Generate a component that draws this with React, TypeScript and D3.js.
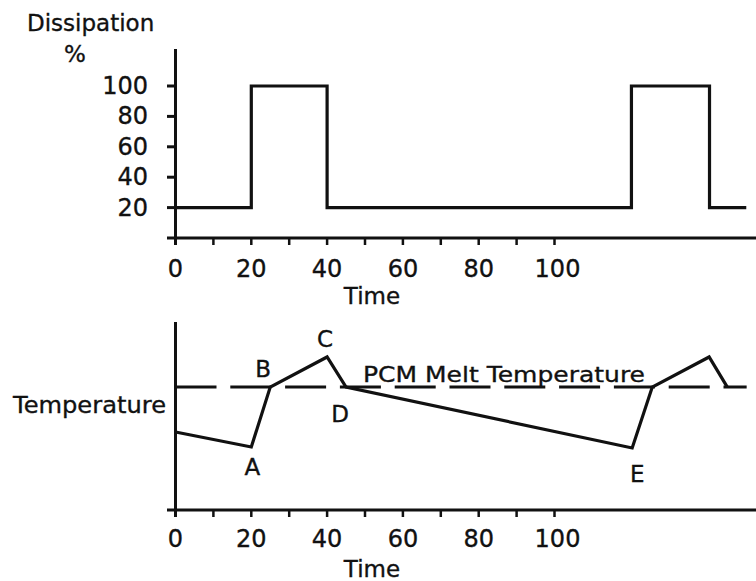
import React from "react";
import * as d3 from "d3";

// ---- data ----
const timeTicks = [0, 10, 20, 30, 40, 50, 60, 70, 80, 90, 100];
const timeLabels = [0, 20, 40, 60, 80, 100];
const dissTicks = [20, 40, 60, 80, 100];

// dissipation (%) step profile: [time, value]
const dissTime = [0, 20, 20, 40, 40, 120.3, 120.3, 140.9, 140.9, 150.6];
const dissValue = [20, 20, 100, 100, 20, 20, 100, 100, 20, 20];

// temperature profile (arbitrary units 0-100)
const tempTime = [0, 20, 25, 40, 45, 120.5, 125.8, 140.8, 145.6];
const tempValue = [41.5, 33.5, 65.4, 81.4, 65.4, 33.0, 65.4, 81.4, 65.4];
const meltTemp = 65.4;
const meltRange = [0, 150.7];

const pointNames = ["A", "B", "C", "D", "E"];
const pointIndex = [1, 2, 3, 4, 5];

const FONT = "'DejaVu Sans', sans-serif";
const FS = 23;
const FSN = 24;

export default function App() {
  const x = d3.scaleLinear().domain([0, 100]).range([175.5, 554.5]);
  const yTop = d3.scaleLinear().domain([0, 100]).range([238, 86]);
  const yBot = d3.scaleLinear().domain([0, 100]).range([510, 322]);

  const dissLine = d3
    .line<number>()
    .x((_, i) => x(dissTime[i]))
    .y((d) => yTop(d));
  const tempLine = d3
    .line<number>()
    .x((_, i) => x(tempTime[i]))
    .y((d) => yBot(d));

  const labelOffsets: Record<string, [number, number]> = {
    A: [1, 28],
    B: [-7, -10],
    C: [-2, -10],
    D: [-6, 35],
    E: [5, 34],
  };

  const txt = { fontFamily: FONT, fill: "#111", stroke: "#111", strokeWidth: 0.35 };

  const axisX = (y0: number, labelY: number, titleY: number) => (
    <g>
      <line x1={167} x2={756} y1={y0} y2={y0} stroke="#111" strokeWidth={3} />
      {timeTicks.map((t) => (
        <line key={t} x1={x(t)} x2={x(t)} y1={y0} y2={y0 + 7} stroke="#111" strokeWidth={2.5} />
      ))}
      {timeLabels.map((t) => (
        <text key={t} x={x(t) + (t === 100 ? 3 : 0)} y={labelY} textAnchor="middle" fontSize={FSN} {...txt}>
          {t}
        </text>
      ))}
      <text x={372} y={titleY} textAnchor="middle" fontSize={FS} {...txt}>
        Time
      </text>
    </g>
  );

  return (
    <svg
      width={756}
      height={581}
      style={{ position: "absolute", left: 0, top: 0, background: "#fff" }}
    >
      <rect x={0} y={0} width={756} height={581} fill="#fff" />
      {/* ---- top chart ---- */}
      <text x={27} y={31} fontSize={FS} {...txt}>
        Dissipation
      </text>
      <text x={75} y={62} textAnchor="middle" fontSize={FS} {...txt}>
        %
      </text>
      <line x1={x(0)} x2={x(0)} y1={49} y2={245} stroke="#111" strokeWidth={3} />
      {dissTicks.map((v) => (
        <g key={v}>
          <line x1={167} x2={x(0)} y1={yTop(v)} y2={yTop(v)} stroke="#111" strokeWidth={3} />
          <text x={148} y={yTop(v) + 8} textAnchor="end" fontSize={FSN} {...txt}>
            {v}
          </text>
        </g>
      ))}
      {axisX(238, 277, 304)}
      <path d={dissLine(dissValue) || ""} fill="none" stroke="#111" strokeWidth={3.2} strokeLinejoin="miter" />

      {/* ---- bottom chart ---- */}
      <line x1={x(0)} x2={x(0)} y1={322} y2={517} stroke="#111" strokeWidth={3} />
      {axisX(510, 547, 577)}
      <text x={13} y={413} fontSize={FS} {...txt} textLength={153} lengthAdjust="spacingAndGlyphs">
        Temperature
      </text>
      <line
        x1={x(meltRange[0])}
        x2={x(meltRange[1])}
        y1={yBot(meltTemp)}
        y2={yBot(meltTemp)}
        stroke="#111"
        strokeWidth={3}
        strokeDasharray="41 13.8"
      />
      <text x={363} y={382} fontSize={22} {...txt} textLength={282} lengthAdjust="spacingAndGlyphs">
        PCM Melt Temperature
      </text>
      <path d={tempLine(tempValue) || ""} fill="none" stroke="#111" strokeWidth={3.2} strokeLinejoin="miter" />
      {pointNames.map((n, i) => {
        const idx = pointIndex[i];
        const [dx, dy] = labelOffsets[n];
        return (
          <text
            key={n}
            x={x(tempTime[idx]) + dx}
            y={yBot(tempValue[idx]) + dy}
            textAnchor="middle"
            fontSize={FS}
            {...txt}
          >
            {n}
          </text>
        );
      })}
    </svg>
  );
}
